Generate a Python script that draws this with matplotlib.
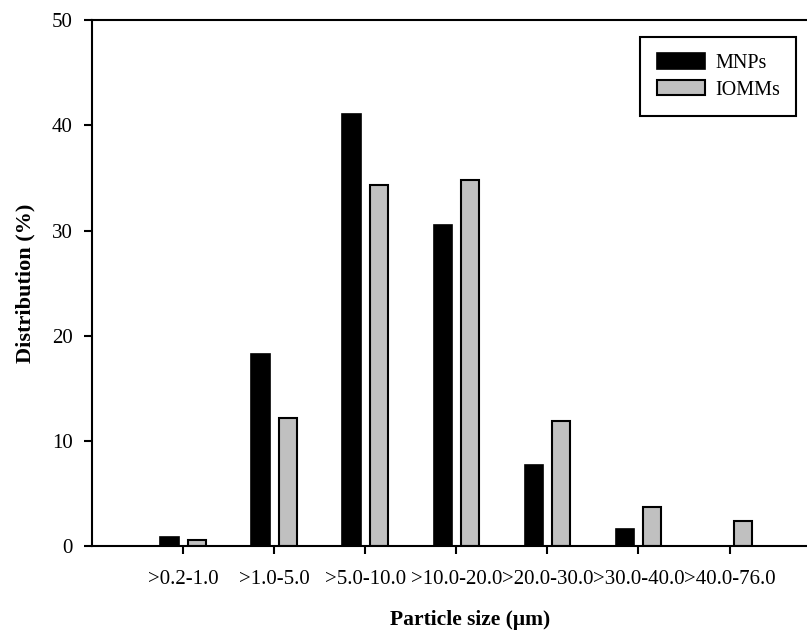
import numpy as np
import matplotlib.pyplot as plt

sizes = ['>0.2-1.0', '>1.0-5.0', '>5.0-10.0', '>10.0-20.0',
         '>20.0-30.0', '>30.0-40.0', '>40.0-76.0']
mnps = [0.9, 18.3, 41.1, 30.5, 7.7, 1.6, 0.0]
iomms = [0.6, 12.2, 34.3, 34.8, 11.9, 3.7, 2.4]

plt.rcParams['font.family'] = ['Liberation Serif', 'DejaVu Serif']

fig = plt.figure(figsize=(8.07, 6.32), dpi=100)
ax = fig.add_axes([0.114, 0.136, 0.886, 0.832])

pos = np.arange(1, len(sizes) + 1)
w = 0.2
ax.bar(pos - 0.15, mnps, w, color='black', edgecolor='black',
       linewidth=1.2, label='MNPs')
ax.bar(pos + 0.15, iomms, w, color='#c0c0c0', edgecolor='black',
       linewidth=1.5, label='IOMMs')

ax.set_xlim(0, 7.85)
ax.set_ylim(0, 50)
ax.set_xticks(pos)
ax.set_xticklabels(sizes, fontsize=15)
ax.set_yticks(range(0, 51, 10))
ax.tick_params(axis='y', labelsize=15, length=6, width=1.5, pad=8)
ax.tick_params(axis='x', length=6, width=1.5, pad=11)

ax.spines['right'].set_visible(False)
for s in ['left', 'top', 'bottom']:
    ax.spines[s].set_linewidth(1.5)

ax.set_xlabel('Particle size (\u03bcm)', fontsize=15.5, fontweight='bold')
ax.xaxis.set_label_coords(0.529, -0.122)
ax.set_ylabel('Distribution (%)', fontsize=16, fontweight='bold', labelpad=12)

leg = ax.legend(loc='upper right', bbox_to_anchor=(0.9846, 0.9677), fontsize=14.5,
                fancybox=False, edgecolor='black', framealpha=1,
                handlelength=2.4, handleheight=0.8, borderpad=0.8,
                labelspacing=0.35, handletextpad=0.5, borderaxespad=0)
leg.get_frame().set_linewidth(1.5)

fig.savefig('out.png', dpi=100)
